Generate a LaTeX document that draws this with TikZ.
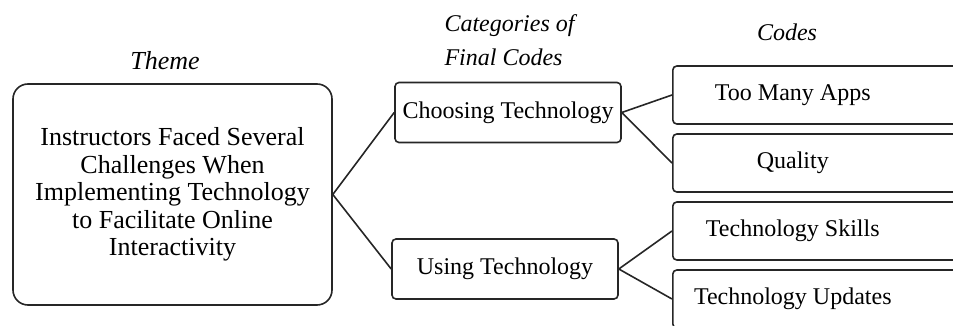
\documentclass[tikz,border=0pt]{standalone}
\usepackage{fontspec}
\setmainfont{Liberation Serif}
\begin{document}
\begin{tikzpicture}[x=1pt,y=1pt,
  every node/.style={font=\fontsize{24}{28}\selectfont},
  box/.style={draw=black!85, line width=1.6pt, rounded corners=4pt, inner sep=0pt},
  themebox/.style={box, rounded corners=15pt, minimum width=319pt, minimum height=221pt,
    align=center, font=\fontsize{26}{27.5}\selectfont},
  catbox/.style={box, minimum width=226pt, minimum height=60pt},
  codebox/.style={box, anchor=west, minimum height=58pt},
  heading/.style={font=\fontsize{24}{34}\selectfont\itshape},
  link/.style={draw=black!85, line width=1.6pt}
]
\useasboundingbox (0,0) rectangle (953,326);
\clip (0,0) rectangle (953,326);

% column headings
\node[heading, font=\fontsize{26}{30}\selectfont\itshape] (hTheme) at (165,265) {Theme};
\node[heading, align=left, anchor=west] (hCat) at (441,286) {Categories of\\Final Codes};
\node[heading] (hCodes) at (787,294) {Codes};

% theme
\node[themebox] (theme) at (172.5,131.5) {Instructors Faced Several\\Challenges When\\Implementing Technology\\to Facilitate Online\\Interactivity};

% categories
\node[catbox] (choose) at (508,213.5) {Choosing Technology};
\node[catbox] (use) at (505,57) {Using Technology};

% codes (boxes run past the right edge)
\node[codebox] (apps) at (672,231) {\makebox[240pt]{Too Many Apps}\hspace*{200pt}};
\node[codebox] (quality) at (672,163) {\makebox[240pt]{Quality}\hspace*{200pt}};
\node[codebox] (skills) at (672,95) {\makebox[240pt]{Technology Skills}\hspace*{200pt}};
\node[codebox] (updates) at (672,27) {\makebox[240pt]{Technology Updates}\hspace*{200pt}};

% connectors
\draw[link] (choose.west) -- (theme.east) -- (use.west);
\draw[link] (apps.west) -- (choose.east) -- (quality.west);
\draw[link] (skills.west) -- (use.east) -- (updates.west);
\end{tikzpicture}
\end{document}
